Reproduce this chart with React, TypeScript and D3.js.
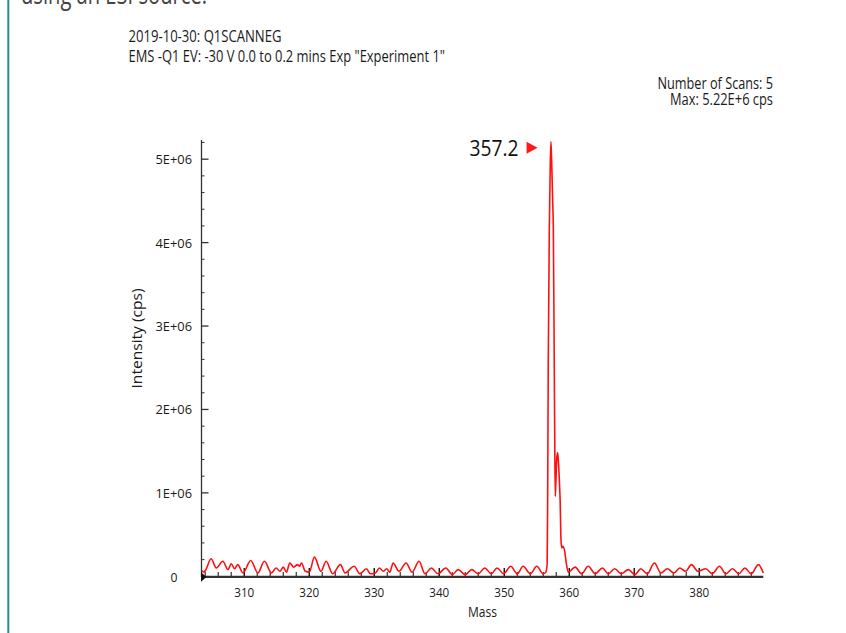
import React from "react";
import * as d3 from "d3";

// ---- data ----
const masses: number[] = [
  303.5, 303.8, 304.1, 304.9, 305.7, 306.7, 307.5, 308.0, 308.5, 309.0, 309.8,
  311.0, 312.1, 313.1, 314.2, 314.9, 315.5, 316.0, 316.5, 317.0, 317.6, 318.2,
  318.5, 318.8, 319.4, 320.0, 320.8, 321.8, 322.6, 323.6, 324.8, 325.5, 326.9,
  327.8, 328.8, 329.4, 330.2, 330.8, 331.4, 331.9, 332.4, 332.9, 333.8, 334.9,
  335.8, 336.9, 337.8, 338.8, 339.8, 341.0, 342.0, 342.9, 344.0, 345.0, 346.0,
  347.0, 348.0, 348.9, 349.9, 351.0, 352.0, 352.9, 354.0, 355.0, 356.0, 356.4,
  356.6, 356.68, 356.77, 356.93, 357.07, 357.18, 357.3, 357.45, 357.55, 357.69,
  357.77, 357.85, 357.95, 358.08, 358.22, 358.35, 358.5, 358.6, 358.72, 358.83,
  359.0, 359.25, 359.5, 359.85, 360.9, 361.9, 362.9, 364.0, 365.1, 366.0, 367.0,
  368.0, 369.1, 370.1, 371.0, 372.0, 373.1, 374.1, 375.1, 376.1, 377.0, 377.9,
  378.8, 379.8, 381.0, 382.0, 383.1, 384.1, 385.1, 386.1, 387.0, 388.0, 389.1,
  389.85,
];
const intensitiesM: number[] = [
  0.07, 0.05, 0.08, 0.21, 0.1, 0.18, 0.08, 0.15, 0.09, 0.14, 0.04,
  0.19, 0.04, 0.18, 0.04, 0.1, 0.06, 0.11, 0.05, 0.16, 0.11, 0.14,
  0.12, 0.16, 0.06, 0.05, 0.23, 0.06, 0.18, 0.03, 0.14, 0.04, 0.12,
  0.03, 0.09, 0.03, 0.04, 0.1, 0.06, 0.09, 0.05, 0.16, 0.06, 0.16,
  0.05, 0.18, 0.03, 0.1, 0.03, 0.1, 0.02, 0.08, 0.02, 0.08, 0.03,
  0.1, 0.03, 0.1, 0.03, 0.12, 0.03, 0.12, 0.03, 0.12, 0.03, 0.05,
  0.15, 1.0, 2.56, 4.15, 4.9, 5.21, 4.95, 4.5, 4.15, 2.56,
  1.6, 0.96, 1.15, 1.42, 1.48, 1.35, 1.1, 0.9, 0.45, 0.34,
  0.36, 0.32, 0.18, 0.05, 0.11, 0.03, 0.12, 0.03, 0.1, 0.03, 0.09,
  0.03, 0.08, 0.02, 0.09, 0.03, 0.16, 0.04, 0.09, 0.04, 0.1, 0.06,
  0.14, 0.06, 0.09, 0.03, 0.12, 0.03, 0.09, 0.03, 0.1, 0.03, 0.14,
  0.04,
];
const xTickValues: number[] = [310, 320, 330, 340, 350, 360, 370, 380];
const yTickValues: number[] = [0, 1e6, 2e6, 3e6, 4e6, 5e6];
const yTickLabels: string[] = ["0", "1E+06", "2E+06", "3E+06", "4E+06", "5E+06"];
const peakLabel = "357.2";
const peakMass = 357.2;
const peakIntensity = 5.22e6;
const titleLines: string[] = [
  "2019-10-30: Q1SCANNEG",
  'EMS -Q1 EV: -30 V 0.0 to 0.2 mins Exp "Experiment 1"',
];
const infoLines: string[] = ["Number of Scans: 5", "Max: 5.22E+6 cps"];

export default function App() {
  const W = 846;
  const H = 633;
  const x = d3.scaleLinear().domain([303.5, 389.85]).range([202, 763.3]);
  const y = d3.scaleLinear().domain([0, 5.23e6]).range([576.3, 140]);
  const pts: [number, number][] = masses.map((m, i) => [m, intensitiesM[i] * 1e6]);
  const line = d3
    .line<[number, number]>()
    .x((d) => x(d[0]))
    .y((d) => y(d[1]))
    .curve(d3.curveMonotoneX);

  const yMinor = d3.range(0, 5.2e6 + 1, 2e5).filter((v) => v % 1e6 !== 0);
  const xMinor = d3.range(304, 390, 2).filter((v) => v % 10 !== 0);
  const axisColor = "#333";
  const font = "'Open Sans', 'Noto Sans', sans-serif";

  const px = x(peakMass);
  const py = y(peakIntensity);

  return (
    <svg
      width={W}
      height={H}
      style={{ position: "absolute", left: 0, top: 0, background: "#fff" }}
      fontFamily={font}
    >
      <rect x={0} y={0} width={W} height={H} fill="#fff" />
      {/* page fragments */}
      <text x={21} y={4} fontSize={27} fill="#444" textLength={186} lengthAdjust="spacingAndGlyphs">
        using an ESI source.
      </text>
      <line x1={8.3} x2={8.3} y1={0} y2={H} stroke="#2d8c8a" strokeWidth={2} />

      {/* titles */}
      <text x={128.5} y={42} fontSize={15.5} fill="#1a1a1a" textLength={153} lengthAdjust="spacingAndGlyphs">
        {titleLines[0]}
      </text>
      <text x={128.5} y={62} fontSize={15.5} fill="#1a1a1a" textLength={316.5} lengthAdjust="spacingAndGlyphs">
        {titleLines[1]}
      </text>
      <text x={657.5} y={88.5} fontSize={15.5} fill="#1a1a1a" textLength={115.5} lengthAdjust="spacingAndGlyphs">
        {infoLines[0]}
      </text>
      <text x={670} y={105} fontSize={15.5} fill="#1a1a1a" textLength={103} lengthAdjust="spacingAndGlyphs">
        {infoLines[1]}
      </text>

      {/* y axis */}
      <line x1={201.5} x2={201.5} y1={140} y2={577} stroke={axisColor} strokeWidth={1.3} />
      {yMinor.map((v) => (
        <line key={"ym" + v} x1={201.5} x2={204.5} y1={y(v)} y2={y(v)} stroke={axisColor} strokeWidth={1} />
      ))}
      {yTickValues.map((v, i) => (
        <g key={"yt" + v}>
          {v > 0 && (
            <line x1={201.5} x2={208.5} y1={y(v)} y2={y(v)} stroke={axisColor} strokeWidth={1.3} />
          )}
          <text
            x={v === 0 ? 177.5 : 192}
            y={y(v) + (v === 0 ? 6 : 5)}
            fontSize={13.5}
            fill="#1a1a1a"
            textAnchor="end"
            textLength={v === 0 ? 7 : 36.5}
            lengthAdjust="spacingAndGlyphs"
          >
            {yTickLabels[i]}
          </text>
        </g>
      ))}
      <text
        transform={`translate(141.5, 338.5) rotate(-90)`}
        fontSize={14}
        fill="#1a1a1a"
        textAnchor="middle"
        textLength={100}
        lengthAdjust="spacingAndGlyphs"
      >
        Intensity (cps)
      </text>

      {/* x axis */}
      <line x1={202} x2={763.3} y1={576.8} y2={576.8} stroke={axisColor} strokeWidth={2.2} />
      {xMinor.map((v) => (
        <line key={"xm" + v} x1={x(v)} x2={x(v)} y1={576} y2={572} stroke={axisColor} strokeWidth={1.2} />
      ))}
      {xTickValues.map((v) => (
        <g key={"xt" + v}>
          <line x1={x(v)} x2={x(v)} y1={576} y2={568} stroke="#111" strokeWidth={1.4} />
          <text x={x(v)} y={597} fontSize={13.5} fill="#1a1a1a" textAnchor="middle" textLength={20} lengthAdjust="spacingAndGlyphs">
            {v}
          </text>
        </g>
      ))}
      <text x={482.5} y={616.5} fontSize={14} fill="#1a1a1a" textAnchor="middle" textLength={29} lengthAdjust="spacingAndGlyphs">
        Mass
      </text>
      <path d="M201,572.3 L206.5,577 L201,581.7 Z" fill="#111" />

      {/* spectrum */}
      <path d={line(pts) || ""} fill="none" stroke="#ff1010" strokeWidth={1.6} strokeLinejoin="round" />

      {/* peak label */}
      <text x={px - 81.5} y={py + 15} fontSize={22.5} fill="#111" textLength={49} lengthAdjust="spacingAndGlyphs">
        {peakLabel}
      </text>
      <path
        d={`M${px - 24.5},${py + 1} L${px - 13.5},${py + 7} L${px - 24.5},${py + 13} Z`}
        fill="#ff1a1a"
      />
    </svg>
  );
}
